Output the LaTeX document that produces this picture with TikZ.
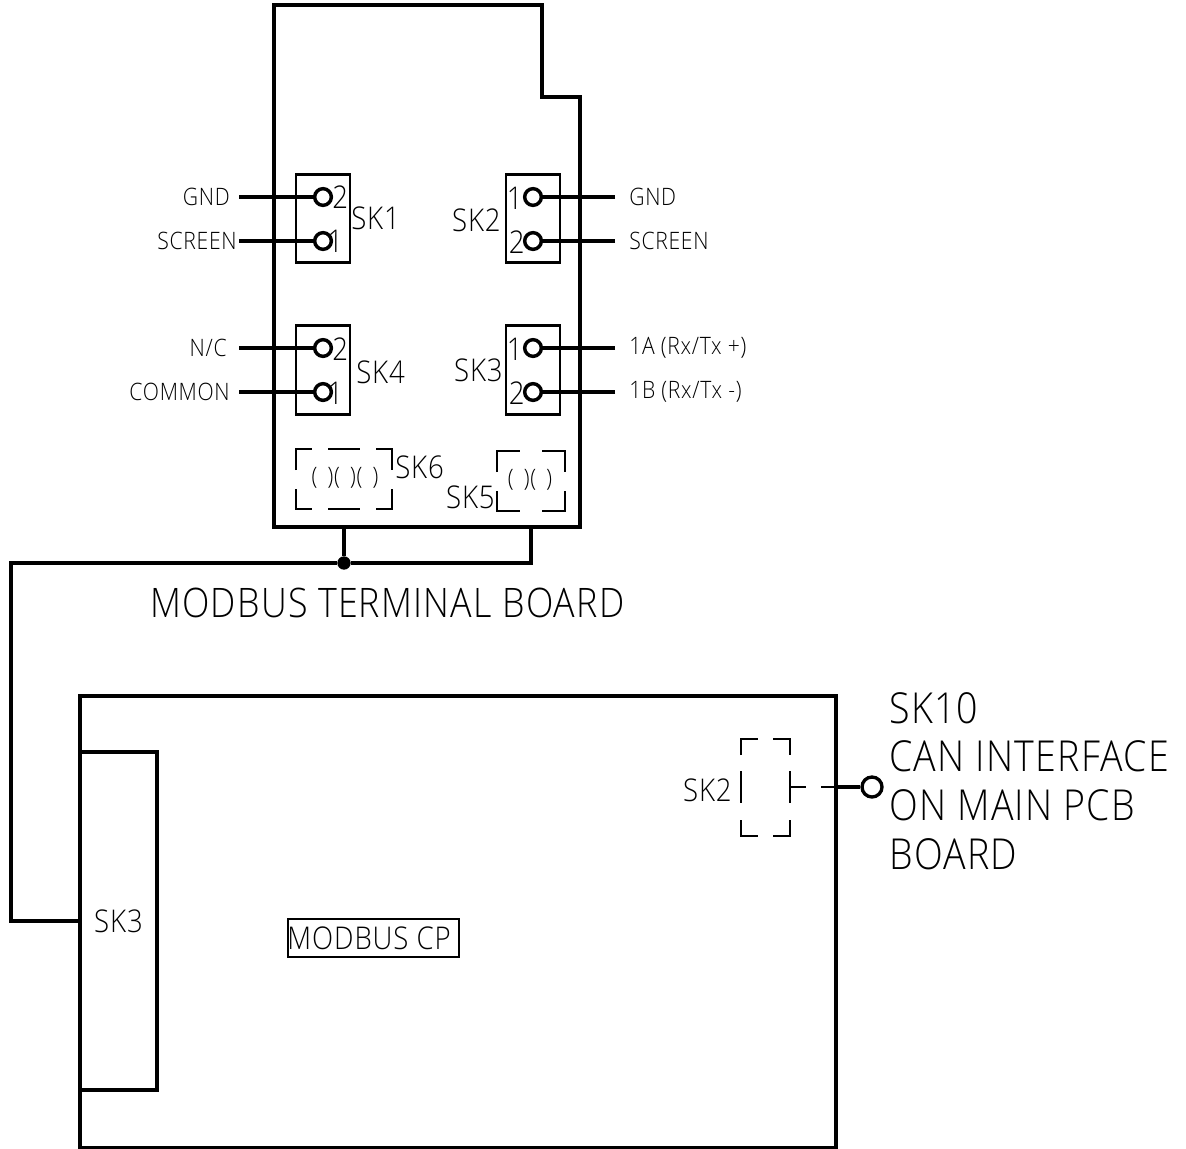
\documentclass[tikz,border=0pt]{standalone}
\usepackage{fontspec}
\setmainfont{Open Sans}[UprightFont=* Light,LetterSpace=3,FakeStretch=0.88]
\usepackage{tikz}
\usetikzlibrary{calc, positioning}

\tikzset{
  wire/.style={line width=2.6pt},
  thinline/.style={line width=1.2pt},
  skbox/.style={draw, line width=2.1pt, minimum width=40.5pt, minimum height=66.5pt},
  pin/.style={draw, circle, line width=2.6pt, fill=white, minimum size=12.5pt},
  tiny/.style={inner sep=0pt, font=\fontsize{18}{20}\selectfont},
  sklabel/.style={inner sep=0pt, font=\fontsize{23.5}{24}\selectfont},
  biglabel/.style={inner sep=0pt, font=\fontsize{32}{36.5}\selectfont},
}

\begin{document}
\begin{tikzpicture}[x=0.75pt, y=-0.75pt, node distance=0pt]
\useasboundingbox (0,0) rectangle (1186,1149);

% terminal board
\draw[wire] (274,5) -- (542,5) -- (542,97) -- (580,97) -- (580,527) -- (274,527) -- cycle;
\coordinate (tap1) at (344,527);
\coordinate (tap2) at (531,527);
\coordinate (bend) at (11,563);

% sockets
\node[skbox] (sk1) at (323,218.5) {};
\node[skbox] (sk2) at (533,218.5) {};
\node[skbox] (sk4) at (323,370) {};
\node[skbox] (sk3) at (533,370) {};

\coordinate (w1) at (239,197);
\coordinate (w2) at (239,241);
\coordinate (w3) at (239,348);
\coordinate (w4) at (239,392);
\coordinate (e1) at (615,197);
\coordinate (e2) at (615,241);
\coordinate (e3) at (615,348);
\coordinate (e4) at (615,392);

\draw[wire] (w1) -- (e1 -| sk1);
\draw[wire] (w2) -- (e2 -| sk1);
\draw[wire] (w3) -- (e3 -| sk4);
\draw[wire] (w4) -- (e4 -| sk4);
\draw[wire] (e1) -- (w1 -| sk2);
\draw[wire] (e2) -- (w2 -| sk2);
\draw[wire] (e3) -- (w3 -| sk3);
\draw[wire] (e4) -- (w4 -| sk3);

\node[pin] (p11) at (323,197) {};
\node[pin] (p12) at (323,241) {};
\node[pin] (p41) at (323,348) {};
\node[pin] (p42) at (323,392) {};
\node[pin] (p21) at (533,197) {};
\node[pin] (p22) at (533,241) {};
\node[pin] (p31) at (533,348) {};
\node[pin] (p32) at (533,392) {};

\node[sklabel, anchor=west] (n11) at (332,197) {2};
\node[sklabel, anchor=west] (n12) at (327,241) {1};
\node[sklabel, anchor=west] (n41) at (332,349) {2};
\node[sklabel, anchor=west] (n42) at (327,393) {1};
\node[sklabel, anchor=east] (n21) at (523,198) {1};
\node[sklabel, anchor=east] (n22) at (525,242) {2};
\node[sklabel, anchor=east] (n31) at (523,349) {1};
\node[sklabel, anchor=east] (n32) at (525,393) {2};

\node[sklabel, anchor=west] (lsk1) at (351,218) {SK1};
\node[sklabel, anchor=east] (lsk2) at (501,220) {SK2};
\node[sklabel, anchor=west] (lsk4) at (356,372) {SK4};
\node[sklabel, anchor=east] (lsk3) at (503,370) {SK3};

\node[tiny, left=6.75pt of w1] (gnd1) {GND};
\node[tiny, left=1.5pt of w2] (scr1) {SCREEN};
\node[tiny, left=9pt of w3] (nc) {N/C};
\node[tiny, left=6.75pt of w4] (com) {COMMON};
\node[tiny, right=10.5pt of e1] (gnd2) {GND};
\node[tiny, right=10.5pt of e2] (scr2) {SCREEN};
\node[tiny, right=10.5pt of e3] (ra) {1A (Rx/Tx +)};
\node[tiny, right=10.5pt of e4] (rb) {1B (Rx/Tx -)};

% SK6 and SK5
\draw[thinline] (296,470) |- (312,449) (328,449) -- (360,449) (376,449) -| (392,470);
\draw[thinline] (296,489) |- (312,509) (328,509) -- (360,509) (376,509) -| (392,489);
\draw[thinline] (497,472) |- (520,451) (542,451) -| (565,472);
\draw[thinline] (497,491) |- (520,511) (542,511) -| (565,491);
\node[tiny] (pins6) at (345,478) {(\ \,)(\ \,)(\ \,)};
\node[tiny] (pins5) at (530,480) {(\ \,)(\ \,)};
\node[sklabel, anchor=west] (lsk6) at (395,467) {SK6};
\node[sklabel, anchor=east] (lsk5) at (495,497) {SK5};

\node[biglabel, anchor=west, font=\fontsize{30.5}{36.5}\selectfont] (title) at (150,603) {MODBUS TERMINAL BOARD};

% control board
\node[draw, wire, minimum width=567pt, minimum height=339pt] (cp) at (458,922) {};
\node[draw, wire, minimum width=57.75pt, minimum height=253.5pt] (plug) at (118.5,921) {};
\node[sklabel] (lplug) at (118.5,921) {SK3};
\node[draw, line width=1.6pt, inner sep=0pt, minimum width=128pt, minimum height=28.5pt] (mcp) at (373.5,938) {};
\node[sklabel, anchor=west] (lmcp) at (mcp.west) {MODBUS CP};

\node[circle, draw, line width=2.5pt, minimum size=15pt] (can) at (872,787) {};
\coordinate (edge) at (cp.east |- can);
\coordinate (stub) at (821,787);
\draw[wire] (edge) -- (can);
\draw[thinline] (stub) -- (edge);
\draw[thinline] (790,787) -- (806,787);
\draw[thinline] (741,755) |- (758,739) (773,739) -| (790,755);
\draw[thinline] (741,820) |- (758,836) (773,836) -| (790,820);
\draw[thinline] (741,771) -- (741,803) (790,771) -- (790,803);
\node[sklabel, anchor=east] (lsk2b) at (732,790) {SK2};
\node[biglabel, anchor=north west, align=left] (canl) at (889,692) {SK10\\CAN INTERFACE\\ON MAIN PCB\\BOARD};

% links
\node[circle, fill=black, inner sep=0pt, minimum size=10pt] (dot) at (344,563) {};
\draw[wire] (tap1) -- (dot);
\draw[wire] (tap2) |- (dot);
\draw[wire] (dot) -- (bend) |- (plug.west);
\end{tikzpicture}
\end{document}
